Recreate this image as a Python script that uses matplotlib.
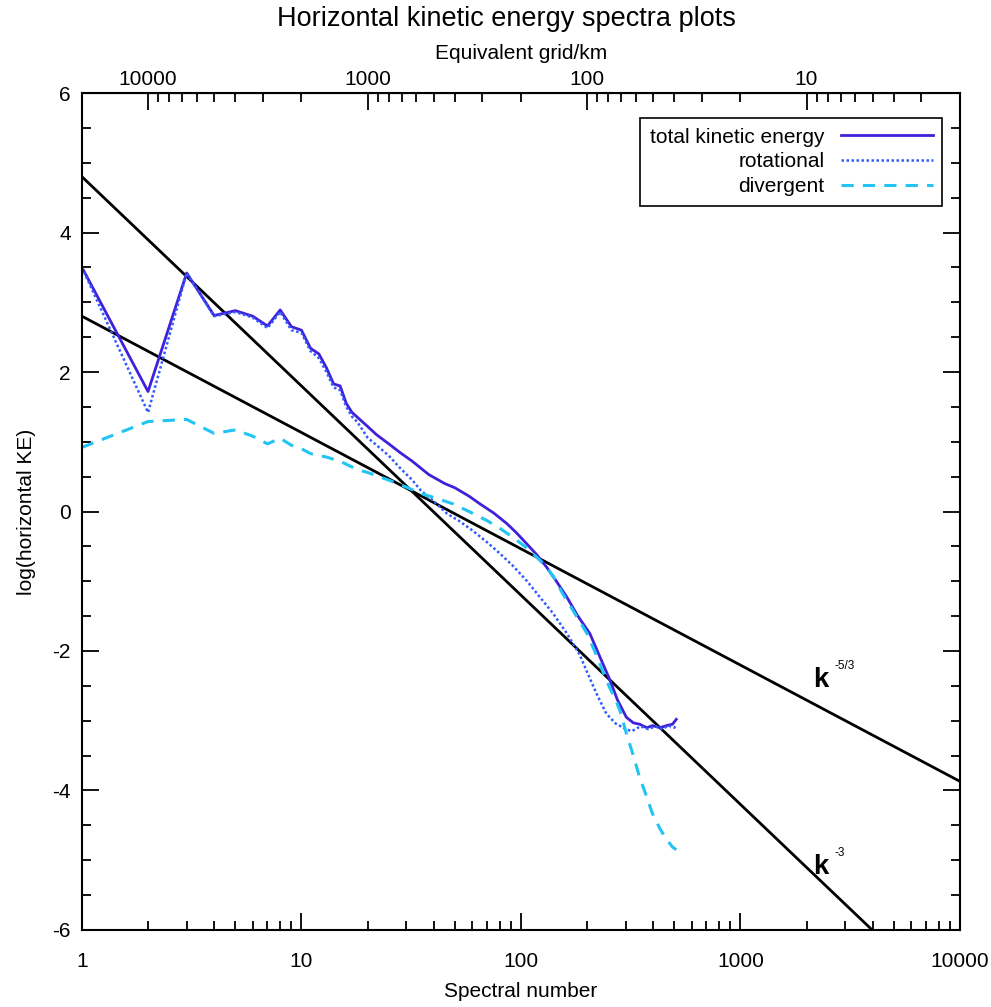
import matplotlib
matplotlib.use('Agg')
import matplotlib.pyplot as plt
from matplotlib.ticker import FuncFormatter, MultipleLocator, LogLocator, FixedLocator
import numpy as np

# spectral numbers and log(KE)
k_total = [1, 2, 3, 4, 5, 6, 7, 8, 9, 10, 11, 12, 13, 14, 15, 16, 17, 18,
           20, 22, 25, 28, 32, 38, 45, 50, 58, 65, 75, 86, 95, 106, 118,
           131, 145, 162, 180, 206, 230, 253, 275, 302, 325, 347, 375, 397,
           430, 460, 490, 510]
ke_total = [3.5, 1.72, 3.42, 2.81, 2.88, 2.8, 2.66, 2.89, 2.65, 2.6, 2.34,
            2.26, 2.06, 1.83, 1.8, 1.55, 1.42, 1.35, 1.22, 1.1, 0.97, 0.85,
            0.72, 0.53, 0.4, 0.34, 0.22, 0.11, -0.02, -0.17, -0.3, -0.46,
            -0.62, -0.8, -1.0, -1.23, -1.48, -1.75, -2.1, -2.4, -2.7, -2.95,
            -3.03, -3.05, -3.1, -3.07, -3.1, -3.07, -3.05, -2.98]

k_rot = [1, 2, 3, 4, 5, 6, 7, 8, 9, 10, 11, 12, 13, 14, 15, 16, 17, 18, 20,
         22, 25, 28, 32, 35, 40, 46, 52, 60, 70, 80, 92, 106, 120, 140, 162,
         185, 200, 220, 245, 270, 300, 320, 350, 380, 410, 440, 470, 500, 510]
ke_rot = [3.5, 1.42, 3.42, 2.8, 2.86, 2.78, 2.63, 2.86, 2.6, 2.56, 2.3, 2.2,
          2.0, 1.78, 1.74, 1.5, 1.36, 1.28, 1.06, 0.95, 0.8, 0.63, 0.45, 0.3,
          0.15, -0.03, -0.13, -0.27, -0.44, -0.6, -0.78, -0.99, -1.2, -1.46,
          -1.75, -2.05, -2.3, -2.6, -2.9, -3.04, -3.12, -3.15, -3.08, -3.12,
          -3.08, -3.12, -3.07, -3.1, -3.05]

k_div = [1, 2, 3, 4, 5, 6, 7, 8, 9, 10, 11, 13, 15, 18, 20, 25, 30, 35, 42,
         49, 58, 70, 80, 92, 106, 122, 140, 155, 175, 200, 220, 235, 253, 270,
         282, 302, 325, 347, 370, 397, 430, 460, 490, 510]
ke_div = [0.92, 1.29, 1.32, 1.12, 1.17, 1.08, 0.97, 1.05, 0.95, 0.9, 0.83,
          0.78, 0.72, 0.6, 0.56, 0.45, 0.35, 0.26, 0.18, 0.11, 0.0, -0.13,
          -0.24, -0.37, -0.52, -0.7, -0.92, -1.18, -1.45, -1.75, -2.05, -2.28,
          -2.52, -2.7, -2.85, -3.18, -3.5, -3.81, -4.05, -4.33, -4.55, -4.7,
          -4.81, -4.85]

# reference slopes, end points at k=1 and k=10000
k_ref = [1, 10000]
ref_k3 = [4.8, -7.2]
ref_k53 = [2.8, -3.87]
grid_ticks = [10000, 1000, 100, 10]

plt.rcParams['font.family'] = ['Liberation Sans', 'DejaVu Sans']

fig = plt.figure(figsize=(9.91, 10.07), dpi=100)
ax = fig.add_axes([0.0827, 0.0765, 0.8860, 0.8311])

ax.plot(k_ref, ref_k3, color='black', lw=2.0)
ax.plot(k_ref, ref_k53, color='black', lw=2.0)
ax.plot(k_total, ke_total, color='#4020d8', lw=2.0,
        label='total kinetic energy')
ax.plot(k_rot, ke_rot, color='#2f5bff', lw=1.8, ls=(0, (1, 1.0)),
        label='rotational')
ax.plot(k_div, ke_div, color='#22c4f4', lw=2.2, ls=(0, (4, 3)),
        label='divergent')

ax.set_xscale('log')
ax.set_xlim(1, 10000)
ax.set_ylim(-6, 6)

fmt = FuncFormatter(lambda v, p: f'{v:g}')
blank = FuncFormatter(lambda v, p: '')
ax.xaxis.set_major_formatter(fmt)
ax.xaxis.set_minor_locator(LogLocator(base=10, subs=np.arange(2, 10)))
ax.xaxis.set_minor_formatter(blank)
ax.yaxis.set_major_locator(MultipleLocator(2))
ax.yaxis.set_minor_locator(MultipleLocator(0.5))
ax.yaxis.set_major_formatter(fmt)

ax.tick_params(which='both', direction='in', labelsize=15, width=1.3)
ax.tick_params(axis='x', which='major', length=12.5, pad=16, top=False)
ax.tick_params(axis='x', which='minor', length=6.5, top=False)
ax.tick_params(axis='y', which='major', length=12.5, right=True, pad=8)
ax.tick_params(axis='y', which='minor', length=6.5, right=True)
for s in ax.spines.values():
    s.set_linewidth(1.5)

ax.set_xlabel('Spectral number', fontsize=15, labelpad=8)
ax.set_ylabel('log(horizontal KE)', fontsize=15, labelpad=12)

secax = ax.secondary_xaxis('top', functions=(lambda k: 20000 / k,
                                             lambda g: 20000 / g))
secax.xaxis.set_major_locator(FixedLocator(grid_ticks))
secax.xaxis.set_major_formatter(fmt)
secax.xaxis.set_minor_locator(LogLocator(base=10, subs=np.arange(2, 10)))
secax.xaxis.set_minor_formatter(blank)
secax.tick_params(which='both', direction='in', labelsize=15, width=1.3)
secax.tick_params(which='major', length=12.5, pad=3)
secax.tick_params(which='minor', length=6.5)
secax.set_xlabel('Equivalent grid/km', fontsize=15, labelpad=8)

ax.text(2150, -2.42, 'k', fontsize=20, fontweight='bold', va='center')
ax.annotate('-5/3', (2150, -2.42), xytext=(15, 6), textcoords='offset points',
            fontsize=8.5, va='bottom')
ax.text(2150, -5.1, 'k', fontsize=20, fontweight='bold', va='center')
ax.annotate('-3', (2150, -5.1), xytext=(15, 6), textcoords='offset points',
            fontsize=8.5, va='bottom')

leg = ax.legend(loc='upper right', markerfirst=False, fontsize=15,
                fancybox=False, edgecolor='black', framealpha=1,
                handlelength=4.4, borderpad=0.45, labelspacing=0.28,
                handletextpad=0.8, borderaxespad=0,
                bbox_to_anchor=(0.9795, 0.970))
leg.get_frame().set_linewidth(1.2)

fig.text(0.511, 0.981, 'Horizontal kinetic energy spectra plots',
         ha='center', va='center', fontsize=19.5)

fig.savefig('out.png', dpi=100)
